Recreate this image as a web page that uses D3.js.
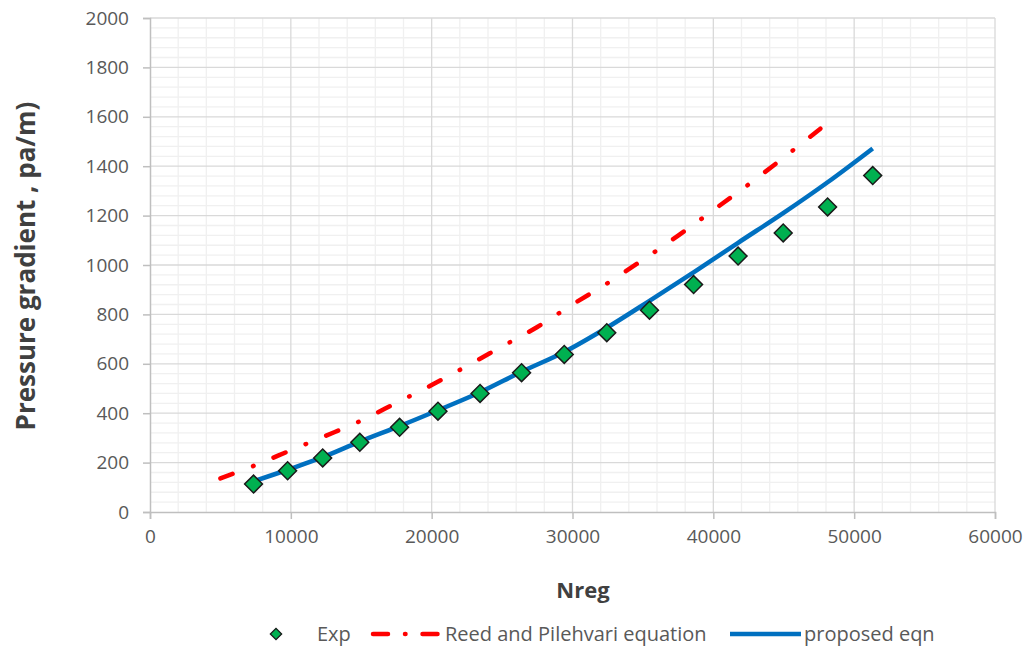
<!DOCTYPE html>
<html>
<head>
<meta charset="utf-8">
<script src="https://cdn.jsdelivr.net/npm/d3@7"></script>
<style>
  body { margin: 0; background: #fff; }
  text { font-family: "Open Sans", sans-serif; }
</style>
</head>
<body>
<svg id="chart" width="1032" height="653"></svg>
<script>
// experimental points
var exp_x = [7352, 9772, 12263, 14897, 17722, 20448, 23438, 26384, 29416, 32434, 35466, 38598, 41757, 44961, 48114, 51317]
var exp_y = [113, 167, 219, 282, 343, 408, 480, 564, 638, 726, 817, 921, 1036, 1130, 1235, 1362]

// Reed and Pilehvari equation
var reed_x = [5000, 7500, 10000, 12500, 15000, 17500, 20000, 22500, 25000, 27500, 30000, 32500, 35000, 37500, 40000, 42500, 45000, 47600]
var reed_y = [136, 190, 250, 309, 370, 442, 514, 591, 670, 749, 840, 927, 1021, 1119, 1222, 1326, 1435, 1552]

// proposed eqn
var prop_x = [7352, 9772, 12263, 14897, 17722, 20448, 23438, 26384, 29416, 32434, 35466, 38598, 41757, 44961, 48114, 51317]
var prop_y = [124, 171, 222, 285, 348, 412, 485, 568, 648, 746, 855, 970, 1090, 1210, 1335, 1472]

var x_ticks = [0, 10000, 20000, 30000, 40000, 50000, 60000]
var y_ticks = [0, 200, 400, 600, 800, 1000, 1200, 1400, 1600, 1800, 2000]

var legend_names = ["Exp", "Reed and Pilehvari equation", "proposed eqn"]

var svg = d3.select("#chart")
var plot_left = 150, plot_right = 995, plot_top = 18, plot_bottom = 512

var x_scale = d3.scaleLinear().domain([0, 60000]).range([plot_left, plot_right]),
    y_scale = d3.scaleLinear().domain([0, 2000]).range([plot_bottom, plot_top])

var grey_text = "#595959"

// minor grid
svg.append("g").selectAll("line")
  .data(d3.range(0, 60001, 2000).filter(d => d % 10000 != 0))
  .enter().append("line")
  .attr("x1", d => x_scale(d)).attr("x2", d => x_scale(d))
  .attr("y1", plot_top).attr("y2", plot_bottom)
  .style("stroke", "#F0F0F0").style("stroke-width", 1.3)
svg.append("g").selectAll("line")
  .data(d3.range(0, 2001, 40).filter(d => d % 200 != 0))
  .enter().append("line")
  .attr("y1", d => y_scale(d)).attr("y2", d => y_scale(d))
  .attr("x1", plot_left).attr("x2", plot_right)
  .style("stroke", "#F0F0F0").style("stroke-width", 1.3)

// major grid
svg.append("g").selectAll("line")
  .data(x_ticks.slice(1))
  .enter().append("line")
  .attr("x1", d => x_scale(d)).attr("x2", d => x_scale(d))
  .attr("y1", plot_top).attr("y2", plot_bottom)
  .style("stroke", "#D9D9D9").style("stroke-width", 1.3)
svg.append("g").selectAll("line")
  .data(y_ticks.slice(1))
  .enter().append("line")
  .attr("y1", d => y_scale(d)).attr("y2", d => y_scale(d))
  .attr("x1", plot_left).attr("x2", plot_right)
  .style("stroke", "#D9D9D9").style("stroke-width", 1.3)

// axes
var x_axis = svg.append("g")
  .attr("transform", "translate(0," + plot_bottom + ")")
  .call(d3.axisBottom(x_scale).tickValues(x_ticks).tickSize(7).tickPadding(11).tickFormat(d3.format("d")))
var y_axis = svg.append("g")
  .attr("transform", "translate(" + plot_left + ",0)")
  .call(d3.axisLeft(y_scale).tickValues(y_ticks).tickSize(7).tickPadding(14).tickFormat(d3.format("d")))
;[x_axis, y_axis].forEach(function(a) {
  a.select(".domain").style("stroke", "#BFBFBF").style("stroke-width", 1.5)
  a.selectAll(".tick line").style("stroke", "#BFBFBF").style("stroke-width", 1.5)
  a.selectAll(".tick text").style("fill", grey_text).style("font-size", "19px")
    .style("font-family", "'Open Sans', sans-serif")
})

// axis titles
svg.append("text")
  .attr("x", 583).attr("y", 598)
  .attr("text-anchor", "middle")
  .style("font-size", "22px").style("font-weight", "bold").style("fill", "#404040")
  .text("Nreg")
svg.append("text")
  .attr("transform", "translate(35,266) rotate(-90)")
  .attr("text-anchor", "middle")
  .style("font-size", "26px").style("font-weight", "bold").style("fill", "#404040")
  .text("Pressure gradient , pa/m)")

var reed_pts = reed_x.map((d, i) => [d, reed_y[i]])
var prop_pts = prop_x.map((d, i) => [d, prop_y[i]])
var exp_pts = exp_x.map((d, i) => [d, exp_y[i]])

var line = d3.line().x(d => x_scale(d[0])).y(d => y_scale(d[1])).curve(d3.curveCatmullRom)

var reed_path = svg.append("path")
  .datum(reed_pts)
  .attr("d", line)
  .style("fill", "none").style("stroke", "#FF0000").style("stroke-width", 4.5)
  .style("stroke-linecap", "round")

// stretch the dash-dot period a little so the line starts and ends on a dash
var reed_len = reed_path.node().getTotalLength(),
    dash = 13,
    n_periods = Math.round((reed_len - dash) / 56),
    gap = ((reed_len - dash) / n_periods - dash - 0.5) / 2
reed_path.style("stroke-dasharray", [dash, gap, 0.5, gap].join(","))

svg.append("path")
  .datum(prop_pts)
  .attr("d", line)
  .style("fill", "none").style("stroke", "#0070C0").style("stroke-width", 4.5)

var diamond = d3.symbol().type(d3.symbolSquare).size(160)
svg.append("g").selectAll("path")
  .data(exp_pts)
  .enter().append("path")
  .attr("d", diamond)
  .attr("transform", d => "translate(" + x_scale(d[0]) + "," + y_scale(d[1]) + ") rotate(45)")
  .style("fill", "#00B050").style("stroke", "#1a1a1a").style("stroke-width", 1.5)

// legend
var leg_y = 634
var leg = svg.append("g")
leg.append("path")
  .attr("d", d3.symbol().type(d3.symbolSquare).size(64))
  .attr("transform", "translate(276," + leg_y + ") rotate(45)")
  .style("fill", "#00B050").style("stroke", "#1a1a1a").style("stroke-width", 1.3)
leg.append("line")
  .attr("x1", 373).attr("x2", 439).attr("y1", leg_y).attr("y2", leg_y)
  .style("stroke", "#FF0000").style("stroke-width", 4.5)
  .style("stroke-linecap", "round").style("stroke-dasharray", "15,17,0.5,17")
leg.append("line")
  .attr("x1", 730).attr("x2", 801).attr("y1", leg_y).attr("y2", leg_y)
  .style("stroke", "#0070C0").style("stroke-width", 4.5)
var leg_text_x = [317, 445, 804]
leg.selectAll("text")
  .data(legend_names)
  .enter().append("text")
  .attr("x", (d, i) => leg_text_x[i]).attr("y", leg_y + 7)
  .style("font-size", "20px").style("fill", grey_text)
  .text(d => d)
</script>
</body>
</html>
